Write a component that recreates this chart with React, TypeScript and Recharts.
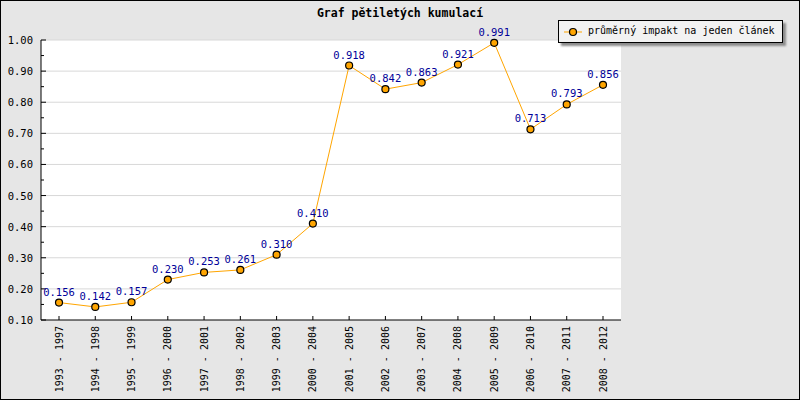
import { LineChart, Line, XAxis, YAxis, CartesianGrid, LabelList } from 'recharts'

const periods = [
  '1993 - 1997', '1994 - 1998', '1995 - 1999', '1996 - 2000',
  '1997 - 2001', '1998 - 2002', '1999 - 2003', '2000 - 2004',
  '2001 - 2005', '2002 - 2006', '2003 - 2007', '2004 - 2008',
  '2005 - 2009', '2006 - 2010', '2007 - 2011', '2008 - 2012',
]
const impact = [
  0.156, 0.142, 0.157, 0.23, 0.253, 0.261, 0.31, 0.41,
  0.918, 0.842, 0.863, 0.921, 0.991, 0.713, 0.793, 0.856,
]
const yTicks = [
  0.1, 0.15, 0.2, 0.25, 0.3, 0.35, 0.4, 0.45, 0.5, 0.55,
  0.6, 0.65, 0.7, 0.75, 0.8, 0.85, 0.9, 0.95, 1.0,
]
const gridValues = [0.2, 0.3, 0.4, 0.5, 0.6, 0.7, 0.8, 0.9, 1.0]

const seriesName = 'průměrný impakt na jeden článek'
const title = 'Graf pětiletých kumulací'

const mono = '"DejaVu Sans Mono", "Liberation Mono", monospace'
const orange = '#FFA500'

const data = periods.map((p, i) => ({ period: p, impact: impact[i] }))

function YTick(props: any) {
  const { x, y, payload } = props
  const major = Math.round(payload.value * 100) % 10 === 0
  return (
    <g>
      <line x1={x} x2={x + (major ? 5 : 3)} y1={y} y2={y} stroke="#000" />
      {major && (
        <text x={x - 8} y={y} dy={4} textAnchor="end" fontFamily={mono} fontSize={10.5} fill="#000">
          {payload.value.toFixed(2)}
        </text>
      )}
    </g>
  )
}

function XTick(props: any) {
  const { x, y, payload } = props
  return (
    <g>
      <line x1={x} x2={x} y1={y} y2={y - 4} stroke="#000" />
      <text
        x={x}
        y={y + 6}
        dy={3.5}
        textAnchor="end"
        transform={`rotate(-90, ${x}, ${y + 6})`}
        fontFamily={mono}
        fontSize={10}
        fill="#000"
      >
        {payload.value}
      </text>
    </g>
  )
}

function ValueLabel(props: any) {
  const { x, y, value } = props
  return (
    <text x={x} y={y - 7} textAnchor="middle" fontFamily={mono} fontSize={10.5} fill="#000099">
      {Number(value).toFixed(3)}
    </text>
  )
}

export default function App() {
  return (
    <div
      style={{
        position: 'absolute',
        left: 0,
        top: 0,
        width: 800,
        height: 400,
        background: '#e6e6e6',
        boxShadow: 'inset 0 0 0 1px #000',
      }}
    >
      <div
        style={{
          position: 'absolute',
          top: 6,
          left: 0,
          width: 800,
          textAlign: 'center',
          fontFamily: mono,
          fontWeight: 'bold',
          fontSize: 11.5,
          color: '#000',
        }}
      >
        {title}
      </div>
      <LineChart width={800} height={400} data={data} margin={{ top: 40, right: 179, bottom: 0, left: 0 }}>
        <CartesianGrid
          vertical={false}
          horizontalValues={gridValues}
          stroke="#d8d8d8"
          fill="#fff"
        />
        <XAxis
          dataKey="period"
          height={80}
          interval={0}
          padding={{ left: 18, right: 18 }}
          tickSize={0}
          tickMargin={0}
          tickLine={false}
          axisLine={{ stroke: '#000' }}
          tick={<XTick />}
        />
        <YAxis
          width={41}
          domain={[0.1, 1.0]}
          ticks={yTicks}
          interval={0}
          tickSize={0}
          tickMargin={0}
          tickLine={false}
          axisLine={{ stroke: '#000' }}
          tick={<YTick />}
        />
        <Line
          type="linear"
          dataKey="impact"
          name={seriesName}
          stroke={orange}
          strokeWidth={1}
          dot={{ r: 3.5, fill: orange, stroke: '#000', strokeWidth: 1.2 }}
          activeDot={false}
          isAnimationActive={false}
        >
          <LabelList dataKey="impact" content={<ValueLabel />} />
        </Line>
      </LineChart>
      <div
        style={{
          position: 'absolute',
          left: 558,
          top: 20,
          width: 223,
          height: 21,
          background: '#f2f2f2',
          border: '1px solid #000',
          boxShadow: '3px 3px 2px #8c8c8c',
        }}
      >
        <svg width={24} height={21} style={{ position: 'absolute', left: 3, top: 0 }}>
          <line x1={2} x2={20} y1={11} y2={11} stroke={orange} strokeWidth={1} />
          <circle cx={11} cy={11} r={3.5} fill={orange} stroke="#000" strokeWidth={1.2} />
        </svg>
        <div
          style={{
            position: 'absolute',
            left: 29,
            top: 4,
            fontFamily: mono,
            fontSize: 10,
            whiteSpace: 'nowrap',
            color: '#000',
          }}
        >
          {seriesName}
        </div>
      </div>
    </div>
  )
}
